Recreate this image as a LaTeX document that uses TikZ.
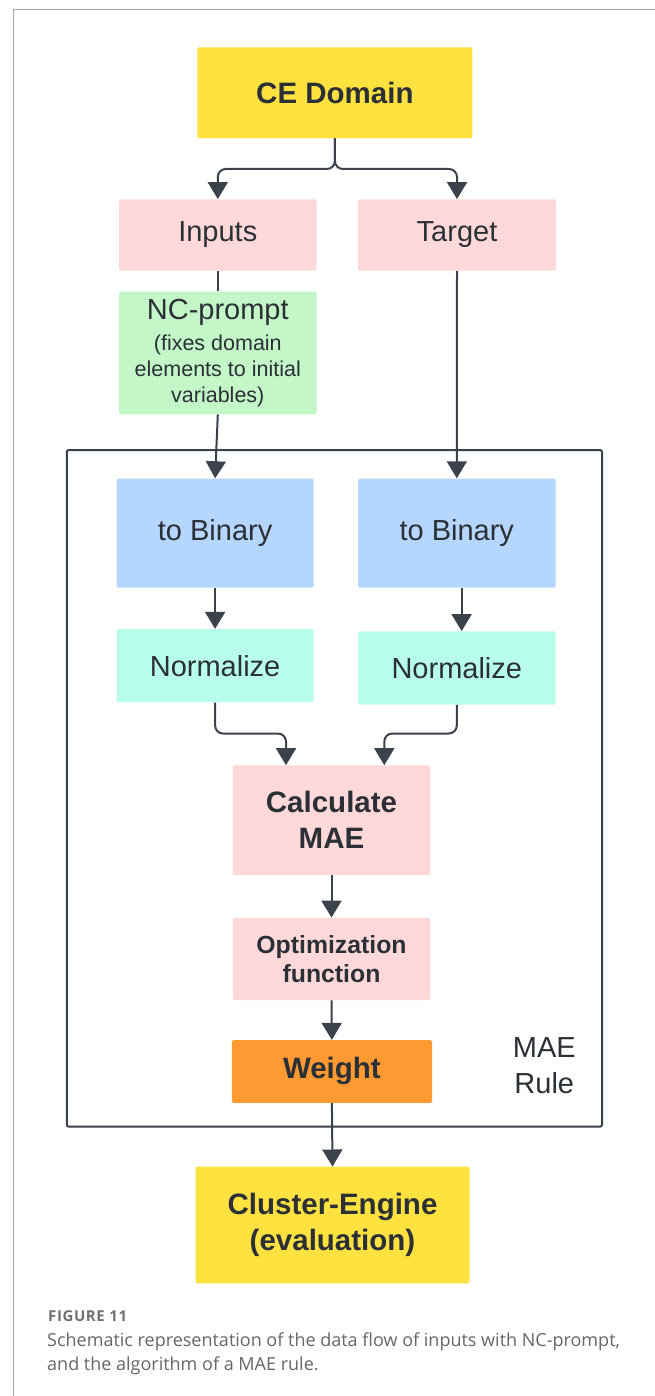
\documentclass[tikz,border=0pt]{standalone}
\usepackage{fontspec}
\setmainfont{Liberation Sans}
\newfontfamily\capfont{Open Sans}
\newfontfamily\caplblfont[LetterSpace=4]{Open Sans}
\usetikzlibrary{arrows.meta}
\definecolor{cyel}{HTML}{FFE13F}
\definecolor{cpink}{HTML}{FFD9D9}
\definecolor{cgreen}{HTML}{C3F7C8}
\definecolor{cblue}{HTML}{B5D6FF}
\definecolor{cteal}{HTML}{B8FFEB}
\definecolor{corange}{HTML}{FF9A33}
\definecolor{ctxt}{HTML}{2B2F36}
\definecolor{cline}{HTML}{3B424B}
\definecolor{cborder}{HTML}{A8A8A8}
\definecolor{ccap}{HTML}{666666}
\definecolor{ccaplbl}{HTML}{707070}
\begin{document}
\begin{tikzpicture}[x=1pt,y=-1pt,
  box/.style={draw=none, inner sep=0pt, align=center, text=ctxt, rounded corners=1.5pt},
  regtext/.style={font=\fontsize{29}{36}\selectfont},
  boldtext/.style={font=\bfseries\fontsize{29.5}{36}\selectfont},
  conn/.style={draw=cline, line width=2pt, rounded corners=8pt},
  arr/.style={conn, -{Triangle[width=20pt,length=17pt]}},
  frame/.style={draw=cline, line width=2pt, rounded corners=2pt}
]
\useasboundingbox (0,0) rectangle (655,1396);
% outer border
\draw[cborder, line width=1.2pt] (655,9.3) -- (13.4,9.3) -- (13.4,1396);

% MAE rule frame
\node[frame, inner sep=0pt, minimum width=535.2pt, minimum height=676.7pt] (rule) at (334.4,788.35) {};
\node[text=ctxt, regtext, align=center, inner sep=0pt] (rulelbl) at (544.3,1066) {MAE\\Rule};

% boxes
\node[box, fill=cyel, minimum width=275pt, minimum height=91pt, boldtext] (ce) at (334.9,92.8) {CE Domain};
\node[box, fill=cpink, minimum width=197.6pt, minimum height=71.4pt, regtext] (inputs) at (217.8,235) {Inputs};
\node[box, fill=cpink, minimum width=198pt, minimum height=71.4pt, regtext] (target) at (457,235) {Target};
\node[box, fill=cgreen, minimum width=197.6pt, minimum height=122.6pt] (nc) at (217.8,353) {};
\node[text=ctxt, inner sep=0pt, font=\fontsize{29}{36}\selectfont] (nctitle) at (217.8,312) {NC-prompt};
\node[text=ctxt, inner sep=0pt, align=center, font=\fontsize{21.5}{26}\selectfont] (ncsub) at (217.8,371) {(fixes domain\\elements to initial\\variables)};
\node[box, fill=cblue, minimum width=197.2pt, minimum height=109.2pt, regtext] (binL) at (215.1,533.1) {to Binary};
\node[box, fill=cblue, minimum width=197.6pt, minimum height=109.2pt, regtext] (binR) at (456.8,533.1) {to Binary};
\node[box, fill=cteal, minimum width=197.2pt, minimum height=73.3pt, regtext] (normL) at (215.1,665.7) {Normalize};
\node[box, fill=cteal, minimum width=197.6pt, minimum height=73.4pt, regtext] (normR) at (456.8,668) {Normalize};
\node[box, fill=cpink, minimum width=197.5pt, minimum height=109.7pt, boldtext] (calc) at (331.5,820.2) {Calculate\\MAE};
\node[box, fill=cpink, minimum width=197.5pt, minimum height=82.3pt, font=\bfseries\fontsize{24.8}{29.3}\selectfont] (opt) at (331.5,958.9) {Optimization\\function};
\node[box, fill=corange, minimum width=200.2pt, minimum height=62.7pt, boldtext] (weight) at (331.9,1071.4) {Weight};
\node[box, fill=cyel, minimum width=274pt, minimum height=116.6pt, boldtext] (cluster) at (332.5,1225) {Cluster-Engine\\(evaluation)};

% connectors
\coordinate (fork) at (334.9,169);
\draw[arr] (ce.south) -- (fork) -| (inputs.north);
\draw[arr] (ce.south) -- (fork) -| (target.north);
\draw[conn] (inputs.south) -- (nc.north);
\draw[arr] (nc.south) -- (binL.north);
\draw[arr] (target.south) -- (binR.north);
\draw[arr] (binL.south) -- (normL.north);
\coordinate (binRout) at ([xshift=4.8pt]binR.south);
\coordinate (normRin) at ([xshift=4.8pt]normR.north);
\draw[arr] (binRout) -- (normRin);
\coordinate (cinL) at ([xshift=-45.5pt]calc.north);
\coordinate (cinR) at ([xshift=52.8pt]calc.north);
\draw[arr] (normL.south) -- ++(0,31) -| (cinL);
\draw[arr] (normR.south) -- ++(0,28.6) -| (cinR);
\draw[arr] (calc.south) -- (opt.north);
\draw[arr] (opt.south) -- (weight.north);
\draw[arr] (weight.south) -- (cluster.north);

% caption
\node[anchor=base west, inner sep=0pt, text=ccaplbl, font=\caplblfont\bfseries\fontsize{15}{16}\selectfont] (figlbl) at (48,1321.7) {FIGURE 11};
\node[anchor=base west, inner sep=0pt, text=ccap, font=\capfont\fontsize{18}{24}\selectfont] (cap1) at (47,1346) {Schematic representation of the data flow of inputs with NC-prompt,};
\node[anchor=base west, inner sep=0pt, text=ccap, font=\capfont\fontsize{18}{24}\selectfont] (cap2) at (47,1370) {and the algorithm of a MAE rule.};
\end{tikzpicture}
\end{document}
